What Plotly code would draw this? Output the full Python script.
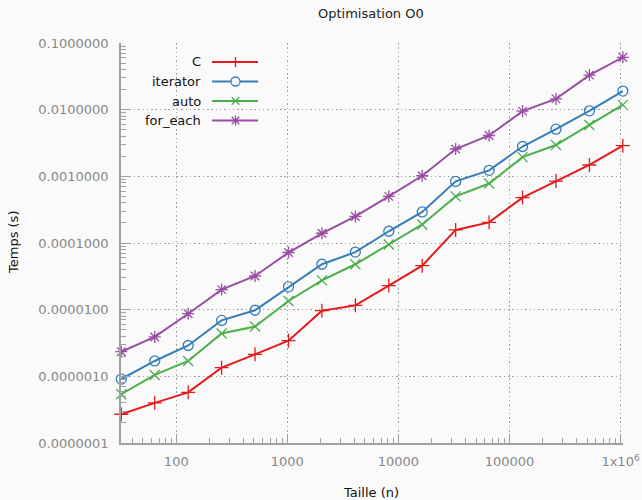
import math
import plotly.graph_objects as go

# ---- data ----
sizes = [32, 64, 128, 256, 512, 1024, 2048, 4096, 8192, 16384, 32768,
         65536, 131072, 262144, 524288, 1048576]
t_c = [2.7e-7, 4.0e-7, 5.75e-7, 1.35e-6, 2.14e-6, 3.43e-6, 9.66e-6, 1.16e-5,
       2.3e-5, 4.57e-5, 1.57e-4, 2.04e-4, 4.8e-4, 8.5e-4, 1.48e-3, 2.88e-3]
t_iterator = [9.1e-7, 1.7e-6, 2.9e-6, 6.9e-6, 9.8e-6, 2.2e-5, 4.8e-5, 7.3e-5,
              1.5e-4, 2.92e-4, 8.4e-4, 1.23e-3, 2.8e-3, 5.1e-3, 9.6e-3, 1.9e-2]
t_auto = [5.4e-7, 1.05e-6, 1.7e-6, 4.4e-6, 5.6e-6, 1.35e-5, 2.75e-5, 4.8e-5,
          9.5e-5, 1.9e-4, 5.0e-4, 7.8e-4, 1.94e-3, 2.95e-3, 5.9e-3, 1.18e-2]
t_for_each = [2.34e-6, 3.9e-6, 8.7e-6, 2.0e-5, 3.2e-5, 7.2e-5, 1.4e-4, 2.5e-4,
              5.0e-4, 1.02e-3, 2.57e-3, 4.1e-3, 9.5e-3, 1.45e-2, 3.3e-2, 6.1e-2]

series_names = ["C", "iterator", "auto", "for_each"]
series_values = [t_c, t_iterator, t_auto, t_for_each]
series_colors = ["#e41a1c", "#377eb8", "#4daf4a", "#984ea3"]
series_symbols = ["cross-thin-open", "circle-open", "x-thin-open", "asterisk-open"]

x_tickvals = [100, 1000, 10000, 100000, 1000000]
x_ticktext = ["100", "1000", "10000", "100000", "1x10<sup>6</sup>"]
y_tickvals = [1e-7, 1e-6, 1e-5, 1e-4, 1e-3, 1e-2, 1e-1]
y_ticktext = ["0.0000001", "0.0000010", "0.0000100", "0.0001000",
              "0.0010000", "0.0100000", "0.1000000"]

title_text = "Optimisation O0"
x_title = "Taille (n)"
y_title = "Temps (s)"

# ---- layout geometry ----
W, H = 642, 500
X_LO, X_HI = math.log10(31.8), math.log10(1.052e6)
PX_PER_DEC = 111.0
L, T, B = 121, 43, 57
PW = int(round((X_HI - X_LO) * PX_PER_DEC))
R = W - L - PW
PH = H - T - B
FONT = "DejaVu Sans"
BG = "#fafafa"
GRID = "#a0a0a0"
TICKC = "#888888"
DOTS = "1.5px,2.8px"


def px(xp):
    return (xp - L) / PW


def py(yp):
    return (H - B - yp) / PH


fig = go.Figure()
for name, vals, col, sym in zip(series_names, series_values, series_colors, series_symbols):
    fig.add_trace(go.Scatter(
        x=sizes, y=vals, name=name, mode="lines+markers",
        line=dict(color=col, width=2),
        marker=dict(symbol=sym, size=10, color=col, line=dict(color=col, width=1.3)),
        cliponaxis=False, showlegend=False,
    ))

minor_x = [m * 10 ** e for e in range(1, 7) for m in range(2, 10)]
minor_y = [m * 10.0 ** e for e in range(-8, 0) for m in range(2, 10)]

fig.update_xaxes(
    type="log", range=[X_LO, X_HI], automargin=False,
    tickmode="array", tickvals=x_tickvals, ticktext=x_ticktext,
    ticks="inside", ticklen=9, tickwidth=1, tickcolor=GRID,
    showline=True, linecolor=GRID, linewidth=1.5,
    showgrid=True, gridcolor=GRID, griddash=DOTS, gridwidth=1,
    zeroline=False, mirror=False,
    minor=dict(tickmode="array", tickvals=minor_x, ticks="inside", ticklen=5,
               tickwidth=1, tickcolor=GRID, showgrid=False),
    tickfont=dict(family=FONT, size=13, color=TICKC),
    ticklabelstandoff=6,
)
fig.update_yaxes(
    type="log", range=[-7, -1], automargin=False,
    tickmode="array", tickvals=y_tickvals, ticktext=y_ticktext,
    ticks="inside", ticklen=9, tickwidth=1, tickcolor=GRID,
    showline=True, linecolor=GRID, linewidth=1.5,
    showgrid=True, gridcolor=GRID, griddash=DOTS, gridwidth=1,
    zeroline=False, mirror=False,
    minor=dict(tickmode="array", tickvals=minor_y, ticks="inside", ticklen=5,
               tickwidth=1, tickcolor=GRID, showgrid=False),
    tickfont=dict(family=FONT, size=13, color=TICKC),
    ticklabelstandoff=8,
)

shapes = []
annotations = []
# legend background (covers grid lines)
shapes.append(dict(type="rect", xref="paper", yref="paper",
                   x0=px(127), x1=px(266), y0=py(135), y1=py(52),
                   fillcolor=BG, line=dict(width=0), layer="between"))
rows = [62, 81.5, 101, 120.5]
for name, col, yrow, sym in zip(series_names, series_colors, rows, series_symbols):
    shapes.append(dict(type="line", xref="paper", yref="paper",
                       x0=px(212), x1=px(258), y0=py(yrow), y1=py(yrow),
                       line=dict(color=col, width=2), layer="above"))
    cx, r = 235.5, 4.5
    lw = 1.3
    if sym.startswith("circle"):
        shapes.append(dict(type="circle", xref="paper", yref="paper",
                           x0=px(cx - r), x1=px(cx + r), y0=py(yrow + r), y1=py(yrow - r),
                           line=dict(color=col, width=lw), fillcolor=BG, layer="above"))
    if sym.startswith("cross") or sym.startswith("asterisk"):
        shapes.append(dict(type="line", xref="paper", yref="paper",
                           x0=px(cx), x1=px(cx), y0=py(yrow - r - 0.5), y1=py(yrow + r + 0.5),
                           line=dict(color=col, width=lw), layer="above"))
        shapes.append(dict(type="line", xref="paper", yref="paper",
                           x0=px(cx - r - 0.5), x1=px(cx + r + 0.5), y0=py(yrow), y1=py(yrow),
                           line=dict(color=col, width=lw), layer="above"))
    if sym.startswith("x") or sym.startswith("asterisk"):
        d = r * 0.85
        shapes.append(dict(type="line", xref="paper", yref="paper",
                           x0=px(cx - d), x1=px(cx + d), y0=py(yrow - d), y1=py(yrow + d),
                           line=dict(color=col, width=lw), layer="above"))
        shapes.append(dict(type="line", xref="paper", yref="paper",
                           x0=px(cx - d), x1=px(cx + d), y0=py(yrow + d), y1=py(yrow - d),
                           line=dict(color=col, width=lw), layer="above"))
    annotations.append(dict(text=name, xref="paper", yref="paper",
                            x=px(203), y=py(yrow), xanchor="right", yanchor="middle",
                            showarrow=False, font=dict(family=FONT, size=13, color="#111111")))

annotations.append(dict(text=y_title, xref="paper", yref="paper", textangle=-90,
                        x=px(13), y=py(243), xanchor="center", yanchor="middle",
                        showarrow=False, font=dict(family=FONT, size=13, color="#111111")))
annotations.append(dict(text=x_title, xref="paper", yref="paper",
                        x=px(370.5), y=py(492), xanchor="center", yanchor="middle",
                        showarrow=False, font=dict(family=FONT, size=13, color="#111111")))
annotations.append(dict(text=title_text, xref="paper", yref="paper",
                        x=px(370.5), y=py(13), xanchor="center", yanchor="middle",
                        showarrow=False, font=dict(family=FONT, size=13, color="#222222")))

fig.update_layout(
    width=W, height=H, autosize=False,
    margin=dict(l=L, r=R, t=T, b=B, pad=0, autoexpand=False),
    paper_bgcolor=BG, plot_bgcolor=BG,
    showlegend=False,
    shapes=shapes, annotations=annotations,
    font=dict(family=FONT),
)

fig.write_html("out.html")
